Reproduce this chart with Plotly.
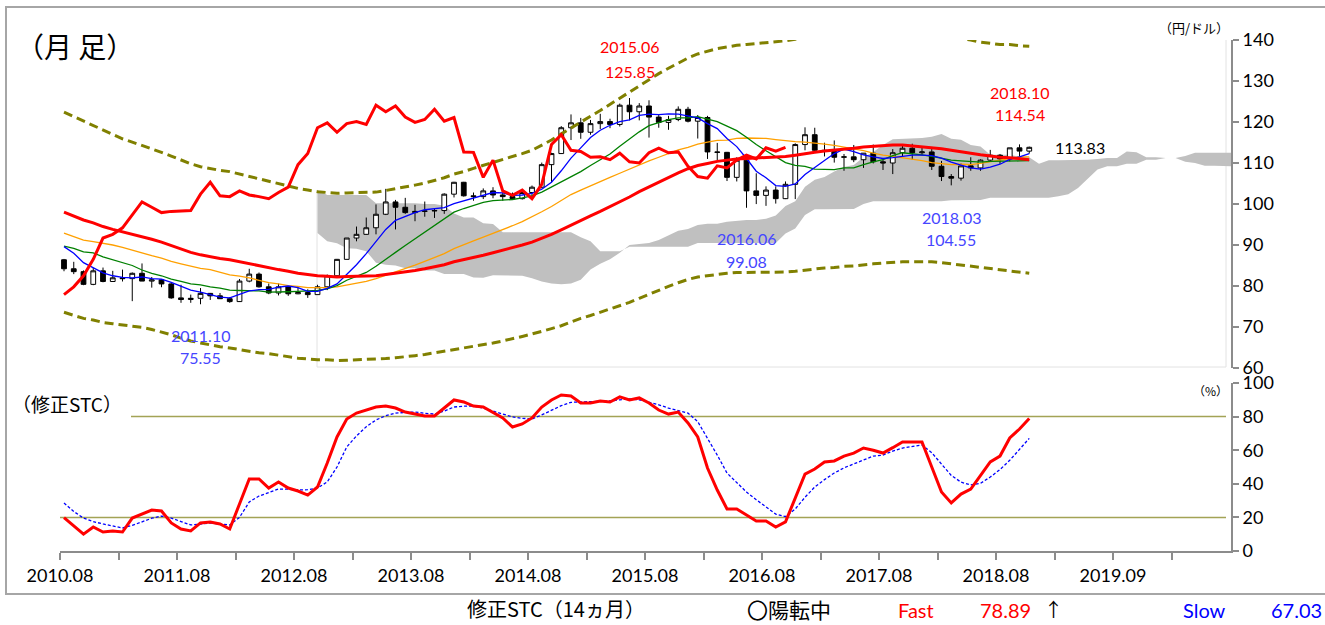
import plotly.graph_objects as go

# ---------------- data (monthly USD/JPY, 2010.08 - 2018.11) ----------------
tick_labels = ["2010.08", "2011.08", "2012.08", "2013.08", "2014.08",
               "2015.08", "2016.08", "2017.08", "2018.08", "2019.09"]

open_ = [86.4, 84.2, 83.5, 80.4, 83.7, 81.1, 82.0, 81.8, 83.1, 81.2,
         81.5, 80.5, 77.1, 76.7, 77.0, 78.2, 77.6, 76.9, 76.2, 81.2,
         82.9, 79.8, 78.3, 79.8, 78.1, 78.4, 77.9, 79.8, 82.5, 86.5,
         91.7, 92.6, 94.2, 97.5, 100.5, 99.2, 97.9, 98.2, 98.3, 98.4,
         102.4, 105.3, 102.0, 101.8, 103.2, 102.2, 101.8, 101.3, 102.8, 104.1,
         109.6, 112.3, 118.6, 119.8, 117.5, 119.6, 120.1, 119.4, 124.1, 122.5,
         123.9, 121.2, 119.9, 120.6, 123.1, 120.2, 121.1, 112.7, 112.6, 106.5,
         110.7, 103.2, 102.1, 103.4, 101.3, 104.8, 114.5, 116.9, 113.1, 112.8,
         111.4, 111.5, 110.8, 112.4, 110.3, 110.0, 112.5, 113.6, 112.5, 112.7,
         109.2, 106.7, 106.3, 109.3, 108.8, 110.7, 111.9, 111.0, 113.7, 112.9]
high = [86.6, 85.9, 83.8, 84.4, 84.5, 83.7, 84.0, 83.3, 85.5, 82.2,
        81.7, 80.8, 80.3, 77.9, 79.5, 78.3, 78.3, 77.3, 81.7, 84.2,
        83.3, 80.6, 80.6, 79.9, 79.6, 79.2, 80.3, 82.8, 86.6, 91.7,
        94.5, 96.7, 99.9, 103.7, 101.0, 101.5, 99.8, 100.6, 99.0, 102.6,
        105.4, 105.4, 102.8, 103.8, 104.1, 102.8, 102.8, 103.1, 104.5, 110.1,
        112.5, 119.0, 121.85, 121.0, 120.5, 122.0, 120.8, 124.5, 125.85, 124.6,
        125.3, 121.8, 121.5, 123.8, 123.7, 121.7, 121.5, 114.9, 112.7, 111.4,
        111.0, 107.5, 104.3, 104.3, 105.5, 114.8, 118.7, 118.6, 114.95, 115.5,
        112.2, 114.4, 112.4, 114.5, 111.0, 113.4, 114.4, 114.7, 113.75, 113.4,
        110.5, 107.3, 109.9, 111.4, 110.9, 113.2, 112.2, 113.7, 114.54, 114.0]
low = [83.6, 82.9, 80.2, 80.2, 80.9, 81.0, 81.1, 76.3, 81.2, 79.6,
       79.7, 76.9, 75.9, 75.9, 75.55, 76.6, 76.9, 75.9, 76.1, 80.9,
       79.6, 78.0, 77.7, 77.6, 78.0, 77.1, 77.9, 79.0, 82.0, 86.5,
       90.9, 92.5, 92.6, 97.3, 93.8, 97.6, 95.8, 96.9, 96.6, 97.6,
       101.6, 101.8, 100.8, 101.2, 101.4, 100.8, 101.1, 101.1, 101.5, 103.8,
       105.2, 112.2, 115.6, 115.9, 116.9, 118.3, 118.5, 118.9, 120.4, 120.4,
       116.2, 118.6, 118.1, 120.2, 119.9, 115.97, 110.99, 110.7, 105.6, 105.5,
       99.08, 99.98, 99.55, 100.1, 101.2, 101.2, 113.1, 112.5, 111.6, 110.1,
       108.1, 110.2, 108.8, 109.9, 108.3, 107.3, 111.7, 110.8, 111.9, 108.3,
       105.6, 104.55, 105.7, 108.1, 108.1, 110.3, 109.8, 110.4, 111.4, 112.3]
close = [84.2, 83.5, 80.4, 83.7, 81.1, 82.0, 81.8, 83.1, 81.2, 81.5,
         80.5, 77.1, 76.7, 77.0, 78.2, 77.6, 76.9, 76.2, 81.2, 82.9,
         79.8, 78.3, 79.8, 78.1, 78.4, 77.9, 79.8, 82.5, 86.5, 91.7,
         92.6, 94.2, 97.5, 100.5, 99.2, 97.9, 98.2, 98.3, 98.4, 102.4,
         105.3, 102.0, 101.8, 103.2, 102.2, 101.8, 101.3, 102.8, 104.1, 109.6,
         112.3, 118.6, 119.8, 117.5, 119.6, 120.1, 119.4, 124.1, 122.5, 123.9,
         121.2, 119.9, 120.6, 123.1, 120.2, 121.1, 112.7, 112.6, 106.5, 110.7,
         103.2, 102.1, 103.4, 101.3, 104.8, 114.5, 116.9, 113.1, 112.8, 111.4,
         111.5, 110.8, 112.4, 110.3, 110.0, 112.5, 113.6, 112.5, 112.7, 109.2,
         106.7, 106.3, 109.3, 108.8, 110.7, 111.9, 111.0, 113.7, 112.9, 113.83]

# moving averages (6 / 12 / 24 / 36 months)
ma6 = [89.6, 88.0, 85.7, 84.4, 83.2, 82.5, 82.1, 82.0, 82.2, 81.8,
       81.7, 80.9, 80.0, 79.0, 78.5, 77.9, 77.3, 77.1, 77.9, 78.8,
       79.1, 79.2, 79.7, 80.0, 79.6, 78.7, 78.7, 79.4, 80.5, 82.8,
       85.2, 87.9, 90.8, 93.8, 96.0, 97.0, 97.9, 98.6, 98.8, 99.1,
       100.1, 100.8, 101.4, 102.2, 102.8, 102.7, 102.1, 102.2, 102.6, 103.6,
       105.3, 108.1, 111.2, 113.7, 116.2, 118.0, 119.2, 120.1, 120.5, 121.6,
       121.9, 121.8, 122.0, 121.9, 121.5, 121.0, 119.6, 118.4, 116.0, 114.0,
       111.1, 108.0, 106.4, 104.5, 104.3, 104.9, 107.2, 109.0, 110.6, 112.3,
       113.4, 112.8, 112.0, 111.5, 111.1, 111.3, 111.6, 111.9, 111.9, 111.8,
       111.2, 110.2, 109.5, 108.8, 108.5, 109.0, 109.7, 110.9, 111.5, 112.3]
ma12 = [89.7, 89.2, 88.3, 88.1, 87.1, 86.4, 85.8, 85.0, 83.9, 83.1,
        82.5, 81.7, 81.1, 80.5, 80.3, 79.8, 79.5, 79.0, 78.9, 78.9,
        78.8, 78.5, 78.5, 78.6, 78.7, 78.8, 78.9, 79.3, 80.1, 81.4,
        82.4, 83.3, 84.8, 86.6, 88.2, 89.9, 91.5, 93.2, 94.8, 96.5,
        98.0, 98.9, 99.6, 100.4, 100.8, 100.9, 101.1, 101.5, 102.0, 102.9,
        104.1, 105.4, 106.6, 107.9, 109.4, 110.8, 112.2, 114.1, 115.9, 117.6,
        119.1, 119.9, 120.6, 121.0, 121.0, 121.3, 120.7, 120.1, 119.0, 117.9,
        116.3, 114.5, 113.0, 111.5, 110.1, 109.4, 109.2, 108.5, 108.5, 108.4,
        108.8, 108.8, 109.6, 110.3, 110.8, 111.8, 112.5, 112.3, 112.0, 111.6,
        111.1, 110.7, 110.5, 110.4, 110.2, 110.4, 110.4, 110.5, 110.5, 110.6]
ma24 = [92.9, 92.0, 91.2, 90.8, 90.4, 90.0, 89.4, 88.7, 88.0, 87.4,
        86.8, 86.0, 85.4, 84.8, 84.3, 84.0, 83.3, 82.7, 82.4, 82.0,
        81.4, 80.8, 80.5, 80.1, 79.9, 79.6, 79.6, 79.6, 79.8, 80.2,
        80.6, 81.1, 81.8, 82.6, 83.4, 84.2, 85.1, 86.0, 86.9, 87.9,
        89.1, 90.1, 91.0, 91.9, 92.8, 93.8, 94.7, 95.7, 96.8, 98.1,
        99.4, 100.9, 102.3, 103.4, 104.5, 105.6, 106.5, 107.5, 108.5, 109.6,
        110.5, 111.4, 112.3, 113.2, 113.8, 114.6, 115.1, 115.5, 115.6, 116.0,
        116.1, 116.1, 116.0, 115.7, 115.4, 115.2, 115.1, 114.9, 114.6, 114.3,
        113.9, 113.4, 113.0, 112.4, 111.9, 111.6, 111.3, 110.9, 110.6, 110.1,
        109.8, 109.6, 109.7, 109.6, 109.9, 110.3, 110.6, 111.1, 111.5, 111.5]
ma36 = [98.0, 97.1, 96.1, 95.4, 94.5, 93.8, 93.2, 92.7, 92.1, 91.4,
        90.7, 89.9, 89.0, 88.2, 87.6, 87.1, 86.7, 86.4, 85.9, 85.5,
        84.9, 84.5, 84.0, 83.6, 83.1, 82.8, 82.5, 82.4, 82.2, 82.3,
        82.4, 82.4, 82.5, 82.8, 83.1, 83.4, 83.8, 84.2, 84.7, 85.2,
        85.9, 86.4, 87.0, 87.5, 88.1, 88.7, 89.3, 90.0, 90.7, 91.6,
        92.6, 93.7, 94.9, 96.1, 97.1, 98.2, 99.3, 100.5, 101.7, 103.0,
        104.2, 105.4, 106.5, 107.6, 108.6, 109.4, 109.9, 110.4, 110.7, 111.0,
        111.1, 111.2, 111.3, 111.4, 111.6, 111.9, 112.3, 112.6, 112.9, 113.1,
        113.4, 113.6, 113.9, 114.1, 114.3, 114.4, 114.4, 114.2, 114.0, 113.8,
        113.5, 113.1, 112.8, 112.4, 112.0, 111.7, 111.4, 111.3, 111.0, 110.8]

# +/-2 sigma bands around the 36-month average
band_upper = [122.4, 121.3, 120.1, 119.1, 117.9, 116.8, 115.9, 115.1, 114.3, 113.4,
              112.6, 111.7, 110.7, 109.8, 109.1, 108.6, 108.2, 107.9, 107.3, 106.8,
              106.1, 105.5, 104.9, 104.4, 103.8, 103.4, 103.0, 102.8, 102.6, 102.7,
              102.8, 102.8, 102.9, 103.3, 103.7, 104.1, 104.6, 105.1, 105.7, 106.4,
              107.3, 107.9, 108.7, 109.4, 110.1, 110.8, 111.5, 112.3, 113.1, 114.3,
              115.6, 117.1, 118.6, 120.1, 121.4, 122.8, 124.3, 125.8, 127.4, 129.0,
              130.4, 131.8, 133.1, 134.4, 135.6, 136.6, 137.3, 137.9, 138.3, 138.7,
              138.9, 139.1, 139.3, 139.5, 139.8, 140.2, 140.7, 141.1, 141.4, 141.7,
              142.0, 142.3, 142.6, 142.8, 143.0, 143.0, 142.9, 142.5, 142.1, 141.7,
              141.3, 140.8, 140.4, 140.0, 139.5, 139.2, 138.9, 138.9, 138.6, 138.5]
band_lower = [73.6, 72.9, 72.1, 71.7, 71.1, 70.8, 70.5, 70.3, 69.9, 69.4,
              68.8, 68.1, 67.3, 66.6, 66.1, 65.6, 65.2, 64.9, 64.5, 64.2,
              63.7, 63.5, 63.1, 62.8, 62.4, 62.2, 62.0, 62.0, 61.8, 61.9,
              62.0, 62.0, 62.1, 62.3, 62.5, 62.7, 63.0, 63.3, 63.7, 64.0,
              64.5, 64.9, 65.3, 65.6, 66.1, 66.6, 67.1, 67.7, 68.3, 68.9,
              69.6, 70.3, 71.2, 72.1, 72.8, 73.6, 74.3, 75.2, 76.0, 77.0,
              78.0, 79.0, 79.9, 80.8, 81.6, 82.2, 82.5, 82.9, 83.1, 83.3,
              83.3, 83.3, 83.3, 83.3, 83.4, 83.6, 83.9, 84.1, 84.4, 84.5,
              84.8, 84.9, 85.2, 85.4, 85.6, 85.8, 85.9, 85.9, 85.9, 85.9,
              85.7, 85.4, 85.2, 84.8, 84.5, 84.2, 83.9, 83.7, 83.4, 83.1]

# lagging span (plotted from 2010.08)
lagging = [77.9, 79.8, 82.5, 86.5, 91.7, 92.6, 94.2, 97.5, 100.5, 99.2,
           97.9, 98.2, 98.3, 98.4, 102.4, 105.3, 102.0, 101.8, 103.2, 102.2,
           101.8, 101.3, 102.8, 104.1, 109.6, 112.3, 118.6, 119.8, 117.5, 119.6,
           120.1, 119.4, 124.1, 122.5, 123.9, 121.2, 119.9, 120.6, 123.1, 120.2,
           121.1, 112.7, 112.6, 106.5, 110.7, 103.2, 102.1, 103.4, 101.3, 104.8,
           114.5, 116.9, 113.1, 112.8, 111.4, 111.5, 110.8, 112.4, 110.3, 110.0,
           112.5, 113.6, 112.5, 112.7, 109.2, 106.7, 106.3, 109.3, 108.8, 110.7,
           111.9, 111.0, 113.7, 112.9, 113.83]

# leading spans (cloud), plotted from 2012.10 onward
span_a = [92.9, 90.9, 90.4, 89.2, 89.1, 88.5, 85.7, 85.2, 85.0, 84.3,
          84.3, 83.8, 83.8, 82.9, 82.9, 82.9, 82.1, 82.0, 82.6, 82.6,
          82.6, 82.5, 81.9, 81.1, 80.6, 80.4, 80.6, 81.5, 84.0, 85.4,
          86.5, 88.1, 90.0, 90.2, 90.5, 91.2, 92.4, 93.5, 93.9, 94.9,
          95.2, 95.2, 95.7, 95.9, 96.1, 96.1, 96.4, 97.2, 99.5, 100.7,
          104.2, 105.9, 106.6, 107.9, 109.0, 109.5, 111.4, 112.7, 114.4, 115.8,
          115.9, 116.1, 116.1, 116.4, 117.1, 115.9, 115.7, 114.4, 114.0, 112.0,
          112.0, 112.0, 111.5, 111.4, 109.8, 110.7, 110.7, 110.7, 110.8, 110.8,
          111.0, 111.2, 111.2, 112.8, 112.6, 111.4, 111.4, 111.2, 111.2, 110.3,
          110.0, 109.3, 109.3, 109.3, 109.3, 109.1, 109.1, 109.5, 109.8]
span_b = [103.5, 102.2, 102.2, 102.2, 102.2, 102.2, 100.2, 100.2, 100.2, 100.2,
          100.2, 100.0, 100.0, 99.6, 97.7, 96.7, 96.7, 95.3, 95.1, 93.1,
          93.1, 93.1, 93.1, 93.1, 93.1, 93.1, 93.1, 91.9, 90.9, 88.5,
          88.5, 88.5, 89.6, 89.6, 89.6, 89.6, 89.6, 89.6, 89.6, 90.5,
          90.5, 90.5, 90.5, 90.5, 90.5, 90.5, 90.5, 90.5, 92.8, 94.0,
          97.3, 98.7, 98.7, 98.7, 98.8, 98.8, 100.0, 100.7, 100.7, 100.7,
          100.7, 100.7, 100.7, 100.7, 100.7, 100.9, 100.9, 100.9, 101.0, 101.5,
          101.5, 101.5, 101.5, 101.5, 101.5, 101.5, 101.9, 102.4, 103.9, 106.2,
          108.4, 109.2, 109.2, 109.8, 109.8, 110.8, 110.8, 111.2, 111.2, 111.7,
          112.5, 112.5, 112.5, 112.5, 112.5, 112.5, 112.5, 112.5, 112.5]

# modified stochastics (14 months)
stc_fast = [19.9, 15.0, 10.0, 14.3, 11.3, 11.9, 11.3, 19.6, 22.0, 24.4,
            23.8, 16.7, 13.1, 11.9, 16.7, 17.3, 16.1, 13.1, 28.0, 42.9,
            42.9, 37.5, 41.1, 37.5, 35.7, 33.3, 38.1, 52.4, 67.9, 78.6,
            82.1, 83.9, 85.7, 86.3, 85.1, 82.7, 81.5, 80.4, 80.4, 85.0,
            89.9, 88.7, 86.3, 85.7, 82.7, 79.2, 73.8, 75.6, 79.2, 85.7,
            89.9, 92.9, 92.3, 88.1, 88.1, 89.3, 88.7, 91.7, 89.9, 91.1,
            88.1, 83.9, 81.5, 82.7, 76.2, 67.9, 49.4, 36.3, 25.0, 25.0,
            21.4, 17.9, 17.9, 14.3, 17.3, 32.0, 45.8, 48.8, 53.0, 53.6,
            56.5, 58.3, 61.3, 60.0, 58.3, 61.5, 64.9, 64.9, 64.9, 50.0,
            35.1, 28.6, 33.9, 36.9, 44.6, 53.0, 56.5, 67.3, 72.6, 78.89]
stc_slow = [28.6, 23.5, 19.6, 17.5, 16.1, 14.8, 13.7, 15.2, 17.3, 19.5,
            20.8, 19.6, 17.5, 15.5, 16.0, 16.7, 16.0, 15.5, 20.0, 29.2,
            32.7, 35.0, 36.9, 36.8, 36.3, 36.5, 37.5, 41.1, 50.0, 61.9,
            68.5, 74.0, 78.0, 80.5, 82.1, 82.5, 82.7, 82.0, 81.5, 83.3,
            85.7, 86.2, 86.3, 85.0, 83.3, 81.5, 79.8, 79.0, 78.6, 81.0,
            83.9, 86.5, 88.5, 88.7, 88.7, 89.0, 89.3, 90.0, 90.5, 90.0,
            88.7, 87.0, 85.1, 83.5, 82.1, 77.0, 67.3, 57.1, 46.4, 40.5,
            35.1, 30.5, 26.2, 22.0, 20.5, 25.0, 32.0, 38.1, 42.5, 46.4,
            49.5, 51.8, 54.5, 56.5, 57.1, 59.5, 61.3, 62.3, 63.1, 58.5,
            52.0, 45.0, 41.0, 39.3, 40.3, 44.0, 48.5, 54.0, 60.5, 67.03]

# ---------------- geometry ----------------
W, H = 1325, 625
L, R, T, B = 60, 1231, 40, 551          # plot box in pixels
STEP = 9.75                              # pixels per month
X0 = -4 / STEP                           # month boundary offset of the candles
XR = [X0, X0 + (R - L) / STEP]
CLOUD_START = 26                         # first plotted month of the cloud


def px(x):
    return (x - L) / (R - L)


def py(y):
    return (B - y) / (B - T)


months = list(range(len(close)))
cloud_x = [CLOUD_START + k for k in range(len(span_a))]
lag_x = list(range(len(lagging)))

JP = "Noto Sans CJK JP"
NUM = "Lato, Noto Sans CJK JP"
OLIVE = "#808000"
GRID_GREY = "#8c8c8c"

fig = go.Figure()

# cloud (base subplot)
fig.add_trace(go.Scatter(x=cloud_x, y=span_a, mode="lines",
                         line=dict(width=0, color="#c0c0c0"),
                         hoverinfo="skip", showlegend=False,
                         xaxis="x", yaxis="y"))
fig.add_trace(go.Scatter(x=cloud_x, y=span_b, mode="lines",
                         line=dict(width=0, color="#c0c0c0"),
                         fill="tonexty", fillcolor="#c0c0c0",
                         hoverinfo="skip", showlegend=False,
                         xaxis="x", yaxis="y"))

# candles (first overlay)
fig.add_trace(go.Candlestick(
    x=months, open=open_, high=high, low=low, close=close,
    increasing=dict(line=dict(color="black", width=1), fillcolor="white"),
    decreasing=dict(line=dict(color="black", width=1), fillcolor="black"),
    whiskerwidth=0, showlegend=False, xaxis="x3", yaxis="y3"))

# indicator lines (second overlay)
for ys in (band_upper, band_lower):
    fig.add_trace(go.Scatter(x=months, y=ys, mode="lines",
                             line=dict(color=OLIVE, width=3, dash="9px,5px"),
                             showlegend=False, xaxis="x4", yaxis="y4"))
fig.add_trace(go.Scatter(x=months, y=ma24, mode="lines",
                         line=dict(color="#ffa000", width=1.3),
                         showlegend=False, xaxis="x4", yaxis="y4"))
fig.add_trace(go.Scatter(x=months, y=ma12, mode="lines",
                         line=dict(color="#008000", width=1.3),
                         showlegend=False, xaxis="x4", yaxis="y4"))
fig.add_trace(go.Scatter(x=months, y=ma6, mode="lines",
                         line=dict(color="#0000ff", width=1.3),
                         showlegend=False, xaxis="x4", yaxis="y4"))
fig.add_trace(go.Scatter(x=months, y=ma36, mode="lines",
                         line=dict(color="#ff0000", width=3),
                         showlegend=False, xaxis="x4", yaxis="y4"))
fig.add_trace(go.Scatter(x=lag_x, y=lagging, mode="lines",
                         line=dict(color="#ff0000", width=3),
                         showlegend=False, xaxis="x4", yaxis="y4"))

# stochastics panel
fig.add_trace(go.Scatter(x=months, y=stc_slow, mode="lines",
                         line=dict(color="#0000ff", width=1.3, dash="3px,2px"),
                         showlegend=False, xaxis="x2", yaxis="y2"))
fig.add_trace(go.Scatter(x=months, y=stc_fast, mode="lines",
                         line=dict(color="#ff0000", width=3),
                         showlegend=False, xaxis="x2", yaxis="y2"))

tickvals = [X0 + 6 * k for k in range(20)]
ticktext = [tick_labels[k // 2] if k % 2 == 0 else "" for k in range(20)]

axis_line = dict(showline=True, linecolor=GRID_GREY, linewidth=2,
                 ticks="outside", tickcolor=GRID_GREY, tickwidth=2,
                 showgrid=False, zeroline=False)
hidden = dict(visible=False, showgrid=False, zeroline=False)

main_dom = [py(368), 1.0]
sub_dom = [0.0, py(383)]

fig.update_layout(
    width=W, height=H,
    margin=dict(l=L, r=W - R, t=T, b=H - B),
    paper_bgcolor="white", plot_bgcolor="rgba(0,0,0,0)",
    font=dict(family=NUM, color="black"),
    showlegend=False,
    xaxis=dict(domain=[0, 1], range=XR, anchor="y", **hidden,
               rangeslider=dict(visible=False)),
    yaxis=dict(domain=main_dom, range=[60, 140], anchor="x", side="right",
               tickvals=list(range(60, 141, 10)), ticklen=6,
               tickfont=dict(size=18, family=NUM, color="black"), **axis_line),
    xaxis2=dict(domain=[0, 1], range=XR, anchor="y2",
                tickvals=tickvals, ticktext=ticktext, ticklen=7,
                tickfont=dict(size=18, family=NUM, color="black"), **axis_line),
    yaxis2=dict(domain=sub_dom, range=[0, 100], anchor="x2", side="right",
                tickvals=list(range(0, 101, 20)), ticklen=6,
                tickfont=dict(size=18, family=NUM, color="black"), **axis_line),
    xaxis3=dict(overlaying="x", range=XR, anchor="y3", **hidden,
                rangeslider=dict(visible=False)),
    yaxis3=dict(overlaying="y", range=[60, 140], anchor="x3", **hidden),
    xaxis4=dict(overlaying="x", range=XR, anchor="y4", **hidden),
    yaxis4=dict(overlaying="y", range=[60, 140], anchor="x4", **hidden),
)

shapes = []
# outer frame
shapes.append(dict(type="rect", xref="paper", yref="paper",
                   x0=px(6), x1=px(1340), y0=py(594), y1=py(7),
                   line=dict(color="#a6a6a6", width=2), layer="below"))
# faint inner frame of the price panel
faint = dict(color="#e2e2e2", width=1)
shapes.append(dict(type="line", xref="paper", yref="paper",
                   x0=px(317), x1=px(317), y0=py(367), y1=py(192), line=faint, layer="below"))
shapes.append(dict(type="line", xref="paper", yref="paper",
                   x0=px(317), x1=px(1226), y0=py(367), y1=py(367), line=faint, layer="below"))
shapes.append(dict(type="line", xref="paper", yref="paper",
                   x0=px(1226), x1=px(1226), y0=py(367), y1=py(40), line=faint, layer="below"))
# 20 / 80 guide lines
shapes.append(dict(type="line", xref="paper", yref="y2", x0=0, x1=px(1226),
                   y0=20, y1=20, line=dict(color="#a3a356", width=1.5), layer="below"))
shapes.append(dict(type="line", xref="paper", yref="y2", x0=px(131), x1=px(1226),
                   y0=80, y1=80, line=dict(color="#a3a356", width=1.5), layer="below"))
fig.update_layout(shapes=shapes)

RED = "#ff0000"
LBLUE = "#4646ff"
ann = []


def mark_label(i, val, text, color, shift):
    ann.append(dict(x=i, y=val, xref="x4", yref="y4", text=text, showarrow=False,
                    yshift=shift, font=dict(size=16, color=color, family=NUM)))


i_hi = high.index(max(high))
mark_label(i_hi, high[i_hi], "2015.06", RED, 52)
mark_label(i_hi, high[i_hi], f"{high[i_hi]:.2f}", RED, 27)
i_98 = len(close) - 2
mark_label(i_98, high[i_98], "2018.10", RED, 52)
mark_label(i_98, high[i_98], f"{high[i_98]:.2f}", RED, 30)
i_lo = low.index(min(low))
mark_label(i_lo, low[i_lo], "2011.10", LBLUE, -31)
mark_label(i_lo, low[i_lo], f"{low[i_lo]:.2f}", LBLUE, -53)
i_lo2 = low.index(min(low[60:80]))
mark_label(i_lo2, low[i_lo2], "2016.06", LBLUE, -31)
mark_label(i_lo2, low[i_lo2], f"{low[i_lo2]:.2f}", LBLUE, -54)
i_lo3 = low.index(min(low[85:]))
mark_label(i_lo3, low[i_lo3], "2018.03", LBLUE, -32)
mark_label(i_lo3, low[i_lo3], f"{low[i_lo3]:.2f}", LBLUE, -54)

last = len(close) - 1
ann.append(dict(x=last, y=close[last], xref="x4", yref="y4", text=f"{close[last]:.2f}",
                showarrow=False, xanchor="left", xshift=24,
                font=dict(size=16, color="black", family=NUM)))


def text_at(x, y, s, size, color="black", anchor="left", family=JP):
    ann.append(dict(x=px(x), y=py(y), xref="paper", yref="paper", text=s,
                    showarrow=False, xanchor=anchor, yanchor="middle",
                    font=dict(size=size, color=color, family=family)))


text_at(14, 46, "（月 足）", 28)
text_at(1231, 27, "（円/ドル）", 13, anchor="right")
text_at(1230, 390, "（%）", 12, anchor="right")
text_at(10, 403, "（修正STC）", 19)
text_at(556, 609, "修正STC（14ヵ月）", 20, anchor="center")
text_at(789, 609, "〇陽転中", 21, anchor="center")
text_at(896, 610, "Fast", 20, RED, family=NUM)
text_at(1033, 610, f"{stc_fast[-1]:.2f}", 20, RED, anchor="right", family=NUM)
text_at(1053, 609, "↑", 19, anchor="center")
text_at(1181, 610, "Slow", 20, "#0000ff", family=NUM)
text_at(1324, 610, f"{stc_slow[-1]:.2f}", 20, "#0000ff", anchor="right", family=NUM)

fig.update_layout(annotations=ann)

fig.write_html("out.html")
